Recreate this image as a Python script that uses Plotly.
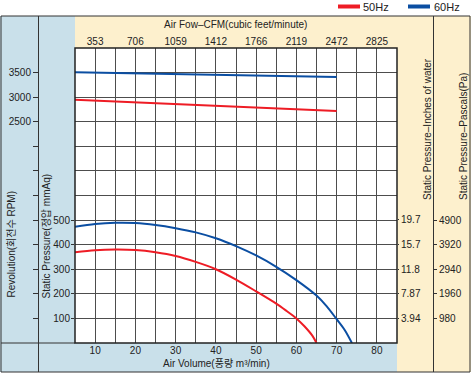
import plotly.graph_objects as go

# ---------------- data ----------------
air_volume = [5, 10, 15, 20, 25, 30, 35, 40, 45, 50, 55, 57.5, 60, 62, 64, 65]
pressure_50hz = [369, 377, 380, 378, 369, 354, 330, 300, 258, 210, 160, 131, 100, 68, 29, 0]

air_volume_60 = [5, 10, 15, 20, 25, 30, 35, 40, 45, 50, 55, 60, 65, 67.5, 70, 72, 73.8]
pressure_60hz = [473, 484, 489, 488, 480, 467, 450, 426, 394, 356, 310, 256, 193, 150, 97, 53, 0]

rpm_x = [5, 70]
rpm_50hz = [2950, 2720]
rpm_60hz = [3505, 3408]

x_ticks = [10, 20, 30, 40, 50, 60, 70, 80]
cfm_labels = ["353", "706", "1059", "1412", "1766", "2119", "2472", "2825"]
p_ticks = [100, 200, 300, 400, 500]
rpm_tickvals = [-1500, -1000, -500, 0, 500, 1000, 1500, 2000, 2500, 3000, 3500]
rpm_ticktext = ["", "", "", "", "", "", "", "", "2500", "3000", "3500"]
inch_labels = ["3.94", "7.87", "11.8", "15.7", "19.7"]
pa_labels = ["980", "1960", "2940", "3920", "4900"]
series_names = ["50Hz", "60Hz"]

RED = "#ee1c25"
BLUE = "#0b4ea2"
LBLUE = "#c9e0ea"
BEIGE = "#fdf0cd"
LINE = "#333333"
GRID = "#4d4d4d"
FONT = "Liberation Sans, Arial, Noto Sans CJK KR, sans-serif"

# ---------------- geometry (pixels) ----------------
W, H = 471, 375
L, R, T, B = 75, 397, 48, 343
PW, PH = R - L, B - T


def fx(px):
    return (px - L) / PW


def fy(py):
    return (B - py) / PH


fig = go.Figure()

fig.add_trace(go.Scatter(x=air_volume, y=pressure_50hz, mode="lines", name=series_names[0],
                         line=dict(color=RED, width=2, shape="spline", smoothing=0.9), yaxis="y", hoverinfo="skip"))
fig.add_trace(go.Scatter(x=air_volume_60, y=pressure_60hz, mode="lines", name=series_names[1],
                         line=dict(color=BLUE, width=2, shape="spline", smoothing=0.9), yaxis="y", hoverinfo="skip"))
fig.add_trace(go.Scatter(x=rpm_x, y=rpm_50hz, mode="lines",
                         line=dict(color=RED, width=2), yaxis="y2", hoverinfo="skip"))
fig.add_trace(go.Scatter(x=rpm_x, y=rpm_60hz, mode="lines",
                         line=dict(color=BLUE, width=2), yaxis="y2", hoverinfo="skip"))
# empty traces to realise the secondary axes
fig.add_trace(go.Scatter(x=[None], y=[None], yaxis="y3", hoverinfo="skip"))
fig.add_trace(go.Scatter(x=[None], y=[None], yaxis="y4", hoverinfo="skip"))
fig.add_trace(go.Scatter(x=[None], y=[None], xaxis="x2", hoverinfo="skip"))

shapes = []
# panels
shapes.append(dict(type="rect", xref="paper", yref="paper", x0=fx(0), x1=fx(L), y0=fy(372), y1=fy(16),
                   fillcolor=LBLUE, line=dict(width=0), layer="below"))
shapes.append(dict(type="rect", xref="paper", yref="paper", x0=fx(L), x1=fx(R), y0=fy(372), y1=fy(B),
                   fillcolor=LBLUE, line=dict(width=0), layer="below"))
shapes.append(dict(type="rect", xref="paper", yref="paper", x0=fx(L), x1=fx(W), y0=fy(B), y1=fy(16),
                   fillcolor=BEIGE, line=dict(width=0), layer="below"))
shapes.append(dict(type="rect", xref="paper", yref="paper", x0=fx(R), x1=fx(W), y0=fy(372), y1=fy(B),
                   fillcolor=BEIGE, line=dict(width=0), layer="below"))
shapes.append(dict(type="rect", xref="paper", yref="paper", x0=0, x1=1, y0=0, y1=1,
                   fillcolor="white", line=dict(width=0), layer="below"))
# outer border
shapes.append(dict(type="rect", xref="paper", yref="paper", x0=fx(1), x1=fx(470), y0=fy(372), y1=fy(16),
                   fillcolor="rgba(0,0,0,0)", line=dict(color=LINE, width=1)))
# dividers
shapes.append(dict(type="line", xref="paper", yref="paper", x0=fx(38.5), x1=fx(38.5), y0=fy(372), y1=fy(16),
                   line=dict(color=LINE, width=1)))
shapes.append(dict(type="line", xref="paper", yref="paper", x0=fx(433.5), x1=fx(433.5), y0=fy(372), y1=fy(16),
                   line=dict(color=LINE, width=1)))
shapes.append(dict(type="line", xref="paper", yref="paper", x0=fx(1), x1=fx(L), y0=fy(B), y1=fy(B),
                   line=dict(color=LINE, width=1)))
# plot frame
shapes.append(dict(type="rect", xref="paper", yref="paper", x0=0, x1=1, y0=0, y1=1,
                   fillcolor="rgba(0,0,0,0)", line=dict(color="#222222", width=1.5)))
# legend samples
shapes.append(dict(type="line", xref="paper", yref="paper", x0=fx(338), x1=fx(360), y0=fy(6.5), y1=fy(6.5),
                   line=dict(color=RED, width=4)))
shapes.append(dict(type="line", xref="paper", yref="paper", x0=fx(408), x1=fx(430), y0=fy(6.5), y1=fy(6.5),
                   line=dict(color=BLUE, width=4)))

tf = dict(family=FONT, size=10, color="#222222")
lf = dict(family=FONT, size=11, color="#222222")

annotations = [
    dict(text="Air Fow–CFM(cubic feet/minute)", x=fx(235), y=fy(25), xref="paper", yref="paper",
         showarrow=False, font=tf, xanchor="center", yanchor="middle"),
    dict(text="Air Volume(풍량 m³/min)", x=fx(216.5), y=fy(363), xref="paper", yref="paper",
         showarrow=False, font=tf, xanchor="center", yanchor="middle"),
    dict(text="Revolution(회전수 RPM)", x=fx(10.5), y=fy(244), xref="paper", yref="paper", textangle=-90,
         showarrow=False, font=tf, xanchor="center", yanchor="middle"),
    dict(text="Static Pressure(정압 mmAq)", x=fx(45.5), y=fy(236), xref="paper", yref="paper", textangle=-90,
         showarrow=False, font=tf, xanchor="center", yanchor="middle"),
    dict(text="Static Pressure–Inches of water", x=fx(427), y=fy(129), xref="paper", yref="paper",
         textangle=-90, showarrow=False, font=tf, xanchor="center", yanchor="middle"),
    dict(text="Static Pressure–Pascals(Pa)", x=fx(463), y=fy(137), xref="paper", yref="paper",
         textangle=-90, showarrow=False, font=tf, xanchor="center", yanchor="middle"),
    dict(text=series_names[0], x=fx(361), y=fy(7), xref="paper", yref="paper",
         showarrow=False, font=lf, xanchor="left", yanchor="middle"),
    dict(text=series_names[1], x=fx(432), y=fy(7), xref="paper", yref="paper",
         showarrow=False, font=lf, xanchor="left", yanchor="middle"),
]

fig.update_layout(
    width=W, height=H,
    margin=dict(l=L, r=W - R, t=T, b=H - B, pad=0, autoexpand=False),
    paper_bgcolor="white", plot_bgcolor="rgba(0,0,0,0)",
    font=tf,
    showlegend=False,
    xaxis=dict(range=[5, 85], tickvals=x_ticks, ticks="", showgrid=True, gridcolor=GRID, gridwidth=1,
               minor=dict(dtick=5, tick0=5, showgrid=True, gridcolor=GRID, gridwidth=1, ticks=""),
               zeroline=False, showline=False, tickfont=tf, automargin=False),
    xaxis2=dict(range=[5, 85], overlaying="x", side="top", tickvals=x_ticks, ticktext=cfm_labels,
                ticks="", showgrid=False, zeroline=False, showline=False, tickfont=tf, anchor="y",
                automargin=False),
    yaxis=dict(range=[0, 1200], tickvals=p_ticks, ticks="outside", ticklen=3, tickcolor=LINE,
               showgrid=True, gridcolor=GRID, gridwidth=1, ticklabelstandoff=-1,
               minor=dict(dtick=100, tick0=0, showgrid=True, gridcolor=GRID, gridwidth=1, ticks=""),
               zeroline=False, showline=False, tickfont=tf, automargin=False),
    yaxis2=dict(range=[-2000, 4000], overlaying="y", anchor="free", position=0, shift=-37, autoshift=False,
                side="left", tickvals=rpm_tickvals, ticktext=rpm_ticktext, ticks="outside", ticklen=5,
                tickcolor=LINE, showgrid=False, zeroline=False, showline=False, tickfont=tf,
                automargin=False),
    yaxis3=dict(range=[0, 1200 / 25.4], overlaying="y", anchor="x", side="right",
                tickvals=[float(v) for v in inch_labels], ticktext=inch_labels,
                ticks="outside", ticklen=1, tickcolor=LINE,
                showgrid=False, zeroline=False, showline=False, tickfont=tf, automargin=False),
    yaxis4=dict(range=[0, 1200 * 9.8], overlaying="y", anchor="free", position=1, shift=36, autoshift=False,
                side="right", tickvals=[float(v) for v in pa_labels], ticktext=pa_labels,
                ticks="outside", ticklen=3, tickcolor=LINE,
                showgrid=False, zeroline=False, showline=False, tickfont=tf, automargin=False),
    shapes=shapes,
    annotations=annotations,
)

fig.write_html("out.html", config={"displayModeBar": False},
               post_script="document.body.style.margin='0';document.body.style.overflow='hidden';")
